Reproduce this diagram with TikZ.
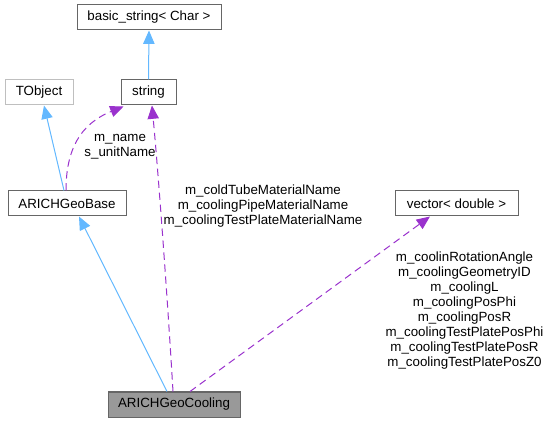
\documentclass[tikz,border=0pt]{standalone}
\usepackage{fontspec}
\setmainfont{Liberation Sans}
\usetikzlibrary{arrows.meta}
\definecolor{edgeblue}{HTML}{63B8FF}
\definecolor{edgepurple}{HTML}{9A32CD}
\definecolor{boxborder}{HTML}{666666}
\definecolor{lightborder}{HTML}{BFBFBF}
\definecolor{fillgray}{HTML}{999999}
\begin{document}
\begin{tikzpicture}[x=0.75pt,y=-0.75pt, font=\fontsize{10}{11.25}\selectfont,
 box/.style={draw=boxborder, line width=0.75pt, fill=white, minimum height=18.75pt, inner sep=0pt, anchor=center},
 inherit/.style={draw=edgeblue, line width=0.75pt, -{Triangle[length=10pt,width=8.5pt,fill=edgeblue]}},
 usage/.style={draw=edgepurple, line width=0.75pt, dash pattern=on 5.5pt off 3.5pt, -{Triangle[length=10pt,width=8.5pt,fill=edgepurple]}},
 lab/.style={align=center, inner sep=0pt}]
\useasboundingbox (0,0) rectangle (549,423);
\node[box, minimum width=108pt] (bs) at (149,17.5) {basic\_string< Char >};
\node[box, draw=lightborder, minimum width=51pt] (tobj) at (39,92.5) {TObject};
\node[box, minimum width=41.25pt] (str) at (148.5,92.5) {string};
\node[box, minimum width=88.5pt] (geobase) at (67,203.5) {ARICHGeoBase};
\node[box, minimum width=92.25pt] (vec) at (456.5,203.5) {vector< double >};
\node[box, fill=fillgray, minimum width=99pt] (cool) at (174,404.5) {ARICHGeoCooling};

\draw[inherit] (str.north) -- (bs.south);
\draw[inherit] ([xshift=-2.25pt]geobase.north) -- ([xshift=3.75pt]tobj.south);
\draw[inherit] ([xshift=-5.25pt]cool.north) -- ([xshift=9pt]geobase.south);
\draw[usage] ([xshift=-0.75pt]geobase.north) .. controls (66,150) and (80,124) .. ([xshift=2.25pt,yshift=-0.75pt]str.south west);
\draw[usage] ([xshift=-0.75pt]cool.north) .. controls (167,290) and (158,170) .. ([xshift=2.6pt]str.south);
\draw[usage] ([xshift=12pt]cool.north) -- ([xshift=-19.9pt]vec.south);

\node[lab] (l1) at (120,147) {m\_name\\s\_unitName};
\node[lab] (l2) at (263,206) {m\_coldTubeMaterialName\\m\_coolingPipeMaterialName\\m\_coolingTestPlateMaterialName};
\node[lab] (l3) at (464.5,310.5) {m\_coolinRotationAngle\\m\_coolingGeometryID\\m\_coolingL\\m\_coolingPosPhi\\m\_coolingPosR\\m\_coolingTestPlatePosPhi\\m\_coolingTestPlatePosR\\m\_coolingTestPlatePosZ0};
\end{tikzpicture}
\end{document}
